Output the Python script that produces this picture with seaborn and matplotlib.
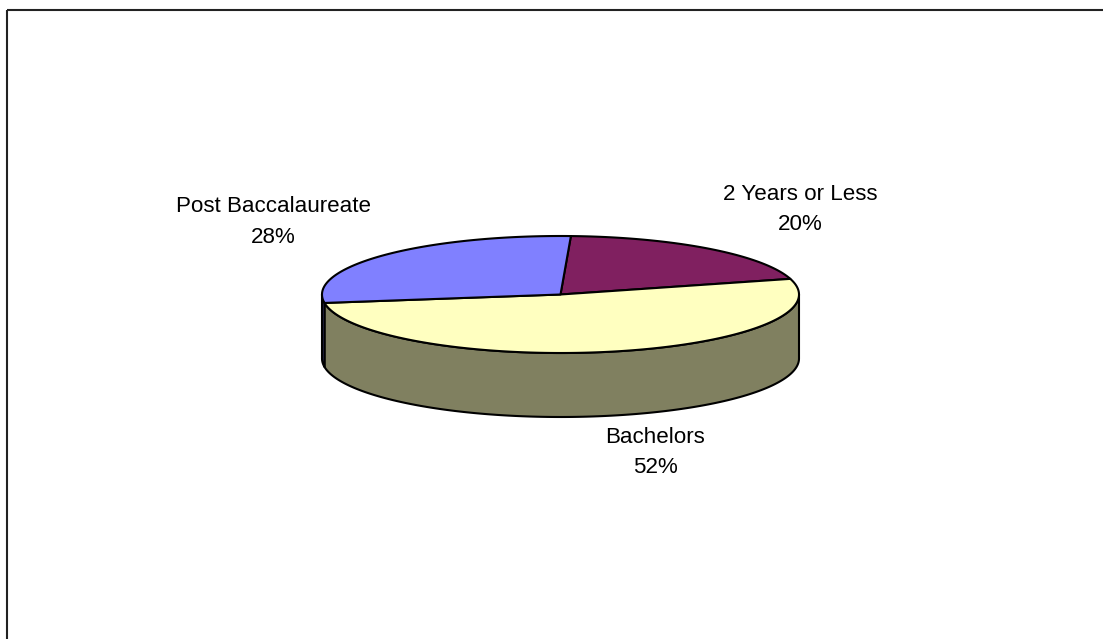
import numpy as np
import matplotlib
matplotlib.use("Agg")
import matplotlib.pyplot as plt
import seaborn as sns

# data
categories = ["2 Years or Less", "Bachelors", "Post Baccalaureate"]
shares = [20, 52, 28]
pct_labels = ["20%", "52%", "28%"]

# Excel-97 style palette
top_colors = ["#802060", "#FFFFC0", "#8080FF"]
side_colors = ["#401030", "#808060", "#404080"]

sns.set_style("white")
plt.rcParams["font.family"] = ["Liberation Sans", "DejaVu Sans"]

fig = plt.figure(figsize=(11.03, 6.39), dpi=100)
ax = fig.add_axes([0, 0, 1, 1])
ax.set_xlim(0, 1103)
ax.set_ylim(639, 0)
ax.axis("off")

# 3D pie geometry (in pixel-like axes units)
cx, cy = 560.5, 294.5
a, b = 238.5, 58.5
depth = 64
start = 2.5  # degrees clockwise from 12 o'clock


def rim(theta_deg, dy=0.0):
    t = np.radians(theta_deg)
    return cx + a * np.sin(t), cy - b * np.cos(t) + dy


bounds = start + 360 * np.concatenate([[0], np.cumsum(shares)]) / sum(shares)

# side walls (only the front half, 90..270 deg, is visible)
for i in range(len(shares)):
    t0, t1 = max(bounds[i], 90), min(bounds[i + 1], 270)
    if t1 <= t0:
        continue
    th = np.linspace(t0, t1, 200)
    xt, yt = rim(th)
    xb, yb = rim(th[::-1], depth)
    ax.fill(np.concatenate([xt, xb]), np.concatenate([yt, yb]),
            facecolor=side_colors[i], edgecolor="black", linewidth=1.5,
            joinstyle="round")

# top faces
for i in range(len(shares)):
    th = np.linspace(bounds[i], bounds[i + 1], 300)
    xt, yt = rim(th)
    ax.fill(np.concatenate([[cx], xt]), np.concatenate([[cy], yt]),
            facecolor=top_colors[i], edgecolor="black", linewidth=1.5,
            joinstyle="round")

# labels: (x centre, baseline of name, baseline of percent)
label_pos = [(800, 200, 230), (655, 443, 473), (273, 212, 243)]
for name, pct, (lx, y1, y2) in zip(categories, pct_labels, label_pos):
    ax.text(lx, y1, name, ha="center", va="baseline", fontsize=16.1, color="black")
    ax.text(lx, y2, pct, ha="center", va="baseline", fontsize=16.1, color="black")

# chart-area frame (only top and left edges visible)
ax.plot([7, 1103], [10, 10], color="#222222", linewidth=1.5, solid_capstyle="butt")
ax.plot([7, 7], [10, 639], color="#222222", linewidth=1.5, solid_capstyle="butt")

fig.savefig("out.png", dpi=100, facecolor="white")
